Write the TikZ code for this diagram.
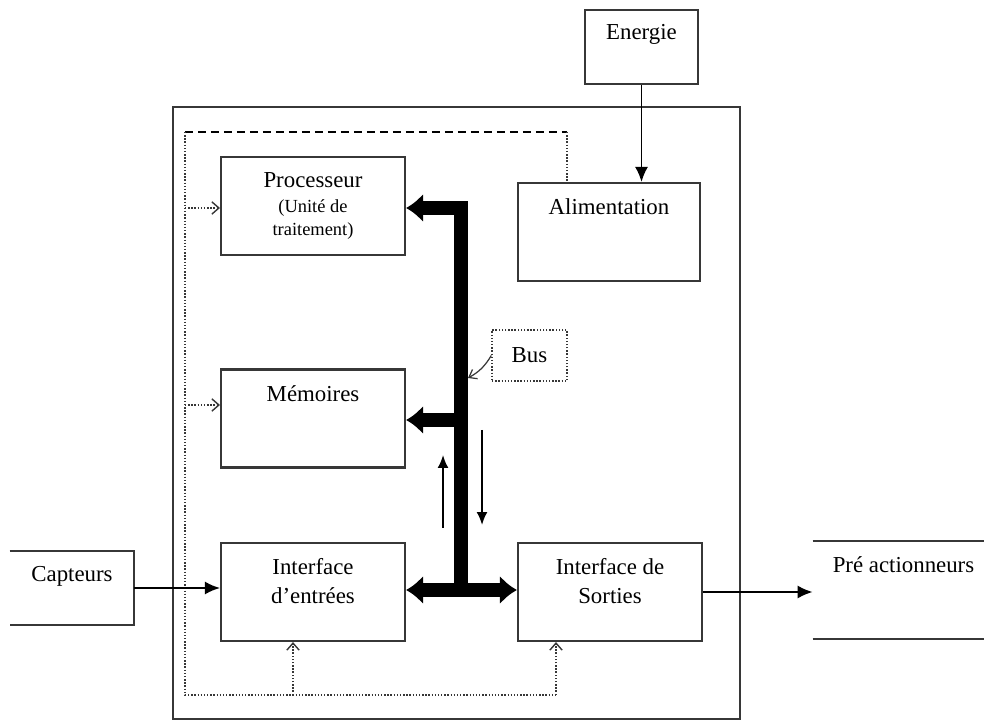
\documentclass[tikz,border=0pt]{standalone}
\usepackage{fontspec}
\setmainfont{Liberation Serif}
\usetikzlibrary{arrows.meta}
\definecolor{traitGris}{RGB}{55,55,55}
\newcommand{\petittexte}{\fontsize{10.5}{12.5}\selectfont}
\tikzset{buspointe/.tip={Latex[length=0.34cm,width=0.58cm]}}

\begin{document}
\begin{tikzpicture}[
        x=0.02cm, y=-0.02cm,
        bloc/.style={rectangle, draw=traitGris, line width=1.2pt, minimum width=3.68cm, minimum height=1.96cm, align=center, font=\fontsize{13}{16}\selectfont},
        vide/.style={rectangle, minimum width=#1, minimum height=1.48cm, inner sep=0pt},
        texte/.style={anchor=center, align=center, font=\fontsize{13}{16.5}\selectfont},
        fleche/.style={-{Latex[length=0.3cm,width=0.26cm]}, line width=1.1pt, black},
        bus/.style={line width=0.27cm, black, line join=miter},
        pointille/.style={densely dotted, line width=0.8pt, traitGris},
        petitefleche/.style={pointille, -{Straight Barb[length=4pt,width=7pt]}}
    ]
        \useasboundingbox (0,0) rectangle (984,722);

        % Automate (cadre exterieur)
        \draw[line width=1.1pt, traitGris] (173,107) rectangle (740,719);

        % Blocs internes
        \node[bloc] (proc) at (313,206) {Processeur\\[-2pt]{\petittexte (Unité de}\\[-3pt]{\petittexte traitement)}};
        \node[bloc, label={[texte,yshift=-0.5cm]north:Mémoires}] (mem) at (313,418.5) {};
        \node[bloc, label={[texte,yshift=-0.79cm]north:Interface\\d'entrées}] (ient) at (313,592) {};
        \node[bloc, label={[texte,yshift=-0.79cm]north:Interface de\\Sorties}] (isort) at (610,592) {};
        \node[bloc, minimum width=3.64cm, label={[texte,yshift=-0.5cm]north:Alimentation}] (alim) at (609,232) {};

        % Energie
        \node[bloc, minimum width=2.26cm, minimum height=1.48cm, label={[texte,yshift=-0.5cm]north:Energie}] (energie) at (641.5,47) {};

        % Capteurs et pre-actionneurs
        \node[vide=2.48cm, label={[texte,yshift=-0.52cm]north:Capteurs}] (capt) at (72,588) {};
        \draw[line width=1.1pt, traitGris] (capt.north west) -- (capt.north east) -- (capt.south east) -- (capt.south west);
        \node[vide=3.42cm, minimum height=1.96cm, label={[texte,yshift=-0.48cm,xshift=0.1cm]north:Pré actionneurs}] (preact) at (898.5,590) {};
        \draw[line width=1.1pt, traitGris] (preact.north west) -- (preact.north east);
        \draw[line width=1.1pt, traitGris] (preact.south west) -- (preact.south east);

        % Bus
        \coordinate (bh) at (461,208);
        \coordinate (bm) at (461,420);
        \coordinate (bb) at (461,590);
        \draw[bus, {buspointe}-] (proc.east |- bh) -- (bh) -- (bb);
        \draw[bus, {buspointe}-] (mem.east |- bm) -- (bm);
        \draw[bus, {buspointe}-{buspointe}] (ient.east |- bb) -- (isort.west |- bb);
        \node[draw=traitGris, densely dotted, line width=0.8pt, minimum width=1.5cm, minimum height=1.02cm, font=\fontsize{13}{16}\selectfont] (busl) at (529.5,355.5) {Bus};
        \coordinate (bp) at (468,378);
        \draw[line width=0.7pt, traitGris, -{Straight Barb[length=4pt,width=6pt]}] (busl.west) to[bend left=15] (bp);

        % Sens des echanges
        \coordinate (mb) at (443,528);
        \coordinate (mh) at (443,455);
        \coordinate (dh) at (482,430);
        \coordinate (db) at (482,525);
        \draw[line width=1.1pt, -{Latex[length=0.26cm,width=0.22cm]}] (mb) -- (mh);
        \draw[line width=1.1pt, -{Latex[length=0.26cm,width=0.22cm]}] (dh) -- (db);

        % Liaisons d'alimentation
        \coordinate (chg) at (185,132);
        \coordinate (chd) at (567,132);
        \coordinate (cbg) at (185,695);
        \coordinate (cbd) at (556,695);
        \coordinate (pe) at (293,695);
        \coordinate (pp) at (185,208);
        \coordinate (pm) at (185,405);
        \draw[line width=1pt, black, dash pattern=on 0.16cm off 0.1cm] (chg) -- (chd);
        \draw[pointille] (chd) -- (chd |- alim.north);
        \draw[pointille] (chg) -- (cbg) -- (cbd);
        \draw[petitefleche] (pe) -- (pe |- ient.south);
        \draw[petitefleche] (cbd) -- (cbd |- isort.south);
        \draw[petitefleche] (pp) -- (proc.west |- pp);
        \draw[petitefleche] (pm) -- (mem.west |- pm);

        % Fleches principales
        \draw[fleche] (energie.south) -- (energie.south |- alim.north);
        \draw[fleche] (capt.east) -- (ient.west |- capt.east);
        \draw[fleche] (isort.east) -- (preact.west |- isort.east);
    \end{tikzpicture}
\end{document}
